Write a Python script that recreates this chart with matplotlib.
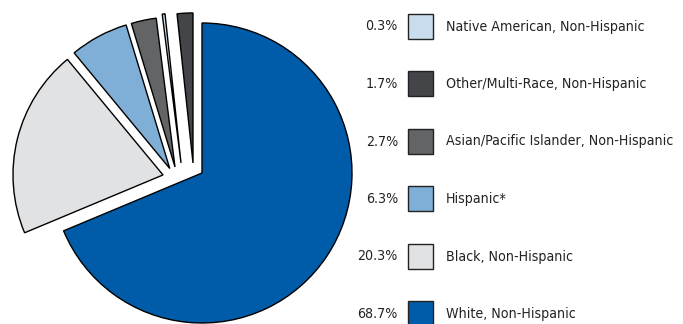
import matplotlib
matplotlib.use("Agg")
import matplotlib.pyplot as plt
from matplotlib.patches import Rectangle
from matplotlib import font_manager

# ---- data ----
categories = ["White, Non-Hispanic", "Black, Non-Hispanic", "Hispanic*",
              "Asian/Pacific Islander, Non-Hispanic", "Native American, Non-Hispanic",
              "Other/Multi-Race, Non-Hispanic"]
values = [68.7, 20.3, 6.3, 2.7, 0.3, 1.7]
pct_labels = ["68.7%", "20.3%", "6.3%", "2.7%", "0.3%", "1.7%"]
colors = ["#005CA9", "#E1E2E4", "#7FAED6", "#636466", "#C9DDEE", "#444548"]
# per-slice displacement (in units of pie radius) - style only
offsets = [(0.0, 0.0), (-0.26, -0.013), (-0.215, 0.03), (-0.18, 0.04),
           (-0.14, 0.067), (-0.06, 0.067)]
legend_order = [4, 5, 3, 2, 1, 0]

# choose an upright condensed font if one exists
fonts = font_manager.fontManager.ttflist
names = {f.name for f in fonts}
cond = [f for f in fonts if ("Narrow" in f.name or "Condensed" in f.name
                              or "ondensed" in str(f.stretch))
        and f.style == "normal" and f.weight in (400, "normal", "regular")]
cond.sort(key=lambda f: (0 if "Liberation" in f.name else 1 if "Noto" in f.name else 2))
if cond:
    fp = font_manager.FontProperties(fname=cond[0].fname)
else:
    fam = next((c for c in ["Roboto", "Liberation Sans", "DejaVu Sans"] if c in names),
               "DejaVu Sans")
    fp = font_manager.FontProperties(family=fam)

W, H = 683, 324
fig = plt.figure(figsize=(W / 100, H / 100), dpi=100)
fig.patch.set_facecolor("white")

R = 150.0
cx, cy = 202.0, 151.0
axw = 360
ax = fig.add_axes([0, 0, axw / W, 1])
wedges, _ = ax.pie(values, colors=colors, startangle=90, counterclock=False,
                   radius=1.0, wedgeprops=dict(edgecolor="black", linewidth=1.0))
for w, off in zip(wedges, offsets):
    w.set_center(off)
ax.set_xlim(-cx / R, (axw - cx) / R)
ax.set_ylim(-cy / R, (H - cy) / R)
ax.set_aspect("equal")
ax.axis("off")

lax = fig.add_axes([0, 0, 1, 1])
lax.set_xlim(0, W)
lax.set_ylim(H, 0)
lax.axis("off")

# size text so the longest label spans the same width as in the reference
fs = 12.0
renderer = fig.canvas.get_renderer()
t = lax.text(0, 0, categories[3], fontproperties=fp, fontsize=fs)
wpx = t.get_window_extent(renderer).width
t.remove()
fs = min(12.5, fs * 226.0 / wpx)

row_y = [26, 83.5, 141, 198.5, 256, 313.5]
for y, i in zip(row_y, legend_order):
    lax.text(398, y + 0.5, pct_labels[i], ha="right", va="center", fontsize=fs,
             color="#222222", fontproperties=fp)
    lax.add_patch(Rectangle((408, y - 12.5), 25, 25, facecolor=colors[i],
                            edgecolor="#222222", linewidth=1.0))
    lax.text(446, y + 0.5, categories[i], ha="left", va="center", fontsize=fs,
             color="#222222", fontproperties=fp)

fig.savefig("out.png", dpi=100, facecolor="white")
